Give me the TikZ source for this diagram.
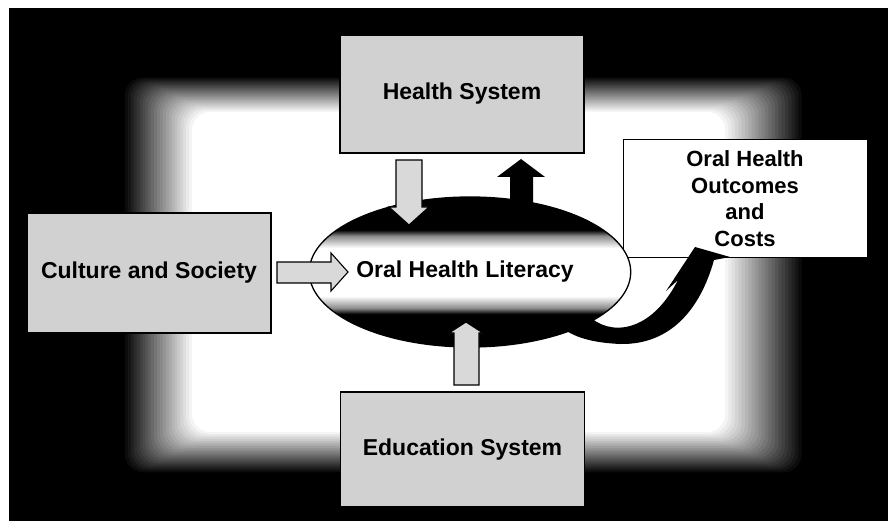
\documentclass[tikz,border=0pt]{standalone}
\usepackage{fontspec}
\setmainfont{Liberation Sans}
\usetikzlibrary{shapes.geometric}

\pgfdeclareverticalshading{litband}{100bp}{color(0bp)=(black); color(36bp)=(black); color(38bp)=(black!45); color(42bp)=(white); color(58bp)=(white); color(62bp)=(black!45); color(64bp)=(black); color(100bp)=(black)}

\tikzset{
  sysbox/.style={draw, line width=1.3pt, fill=black!18, minimum width=244pt, minimum height=118pt, inner sep=0pt, font=\bfseries\fontsize{23}{27}\selectfont},
  outbox/.style={sysbox, fill=white, line width=1pt, align=center, font=\bfseries\fontsize{22}{26.5}\selectfont},
  grayarrow/.style={draw, line width=1.1pt, fill=black!15, line join=miter},
}

\begin{document}
\begin{tikzpicture}[x=1pt,y=-1pt]
\useasboundingbox (0,0) rectangle (888,521);
\fill[white] (0,0) rectangle (888,521);
\fill[black] (9,8) rectangle (888,521);

% soft white glow behind the diagram
\foreach \i [evaluate=\i as \gl using 122+\i*70/24,
             evaluate=\i as \gt using 76+\i*36/24,
             evaluate=\i as \gr using 805-\i*80/24,
             evaluate=\i as \gb using 474-\i*42/24,
             evaluate=\i as \gc using 100-\i*100/24] in {0,...,24}
  \fill[black!\gc, rounded corners=18] (\gl,\gt) rectangle (\gr,\gb);

\node[sysbox] (health) at (462,94) {Health System};
\node[sysbox, minimum height=120pt] (culture) at (149,273) {Culture and Society};
\node[sysbox, minimum height=115pt] (educ) at (462.5,449.5) {Education System};
\node[outbox] (outcome) at (745,198.5) {Oral Health\\Outcomes\\and\\Costs};

\node[ellipse, draw, line width=1.3pt, shading=litband, minimum width=278pt, minimum height=150pt, inner sep=0pt,
  font=\bfseries\fontsize{23}{27}\selectfont] (literacy) at (470,272) {Oral Health Literacy\hspace*{10pt}};

% block arrows
\draw[grayarrow] (396,160) -- (422,160) -- (422,207) -- (429,207) -- (409,225) -- (389,207) -- (396,207) -- cycle;
\fill[black] (510,205) -- (510,177) -- (497,177) -- (521,159) -- (545,177) -- (533,177) -- (533,205) -- cycle;
\draw[grayarrow] (277,262) -- (331,262) -- (331,253) -- (348,272) -- (331,291) -- (331,283) -- (277,283) -- cycle;
\draw[grayarrow] (454,385) -- (454,333) -- (449,333) -- (466,322) -- (483,333) -- (479,333) -- (479,385) -- cycle;

% curved arrow to the outcomes
\fill[black] (588,315) .. controls (608,336) and (650,335) .. (678,280) -- (666,291) -- (695,247) -- (730,257)
  -- (714,260) .. controls (700,310) and (670,345) .. (620,344) .. controls (600,343) and (580,340) .. (565,330) -- cycle;
\end{tikzpicture}
\end{document}
